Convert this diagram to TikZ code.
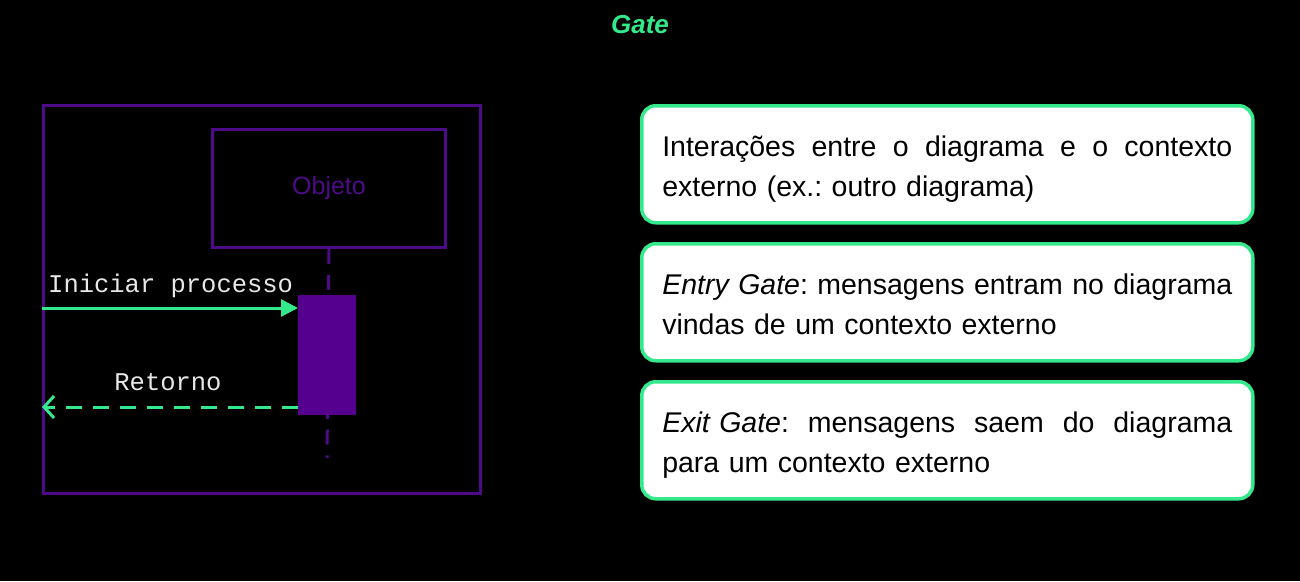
\documentclass[tikz,border=0pt]{standalone}
\usepackage{fontspec}
\setmainfont{Liberation Sans}
\setmonofont{Liberation Mono}
\usetikzlibrary{arrows.meta}
\frenchspacing
\definecolor{gatepurple}{HTML}{4E0B87}
\definecolor{actfill}{HTML}{55008F}
\definecolor{gategreen}{HTML}{33E98C}
\definecolor{msgwhite}{HTML}{E8E8E8}
\newcommand{\fullline}[1]{\hbox to 570pt{\rule{0pt}{34pt}#1}}
\newcommand{\lastline}[1]{\rule[-10pt]{0pt}{10pt}#1}
\tikzset{
  purpleline/.style={draw=gatepurple, line width=3pt},
  infobox/.style={draw=gategreen, line width=3.5pt, fill=white, rounded corners=14pt,
    minimum width=611pt, minimum height=117pt, anchor=north west, inner xsep=19pt,
    text width=570pt, align=left, font=\fontsize{28.5}{40}\selectfont, text=black},
  msglabel/.style={font=\ttfamily\fontsize{25.5}{28}\selectfont, text=msgwhite, inner sep=0pt},
  msgline/.style={draw=gategreen, line width=3pt},
}
\begin{document}
\begin{tikzpicture}[x=1pt,y=-1pt]
\useasboundingbox[fill=black] (0,0) rectangle (1300,581);
% title
\node[font=\bfseries\itshape\fontsize{26}{30}\selectfont, text=gategreen] (title) at (640,25) {Gate};
% frame
\node[purpleline, minimum width=437pt, minimum height=388pt, anchor=north west, inner sep=0pt] (frame) at (42,104) {};
% object
\node[purpleline, minimum width=233pt, minimum height=118pt, anchor=north west, inner sep=0pt] (obj) at (211,128) {};
\node[font=\fontsize{25}{28}\selectfont, text=gatepurple] (objlabel) at (obj.center) {Objeto};
% lifeline end
\coordinate (lifeend) at (327,458);
\draw[draw=gatepurple, line width=3pt, dash pattern=on 15pt off 10.8pt] (obj.south) -- (lifeend);
% activation
\node[fill=actfill, minimum width=58pt, minimum height=120pt, anchor=north west, inner sep=0pt] (act) at (298,295) {};
% gates
\coordinate (gin) at (42,308);
\coordinate (gout) at (42,407);
\draw[msgline, -{Triangle[length=17pt,width=17pt]}] (gin) -- (gin -| act.west);
\draw[msgline, dash pattern=on 16pt off 11pt, -{Straight Barb[length=10pt,width=22pt,line width=3pt]}] (gout -| act.west) -- (gout);
\node[msglabel, anchor=base west] (lab1) at (48,292) {Iniciar processo};
\node[msglabel, anchor=base] (lab2) at (168,390) {Retorno};
% info boxes
\node[infobox] (box1) at (640,104) {\fullline{Interações\hfill entre\hfill o\hfill diagrama\hfill e\hfill o\hfill contexto}\\\lastline{externo (ex.: outro diagrama)}};
\node[infobox] (box2) at (640,242) {\fullline{\textit{Entry Gate}:\hfill mensagens\hfill entram\hfill no\hfill diagrama}\\\lastline{vindas de um contexto externo}};
\node[infobox] (box3) at (640,380) {\fullline{\textit{Exit Gate}:\hfill mensagens\hfill saem\hfill do\hfill diagrama}\\\lastline{para um contexto externo}};
\end{tikzpicture}
\end{document}
